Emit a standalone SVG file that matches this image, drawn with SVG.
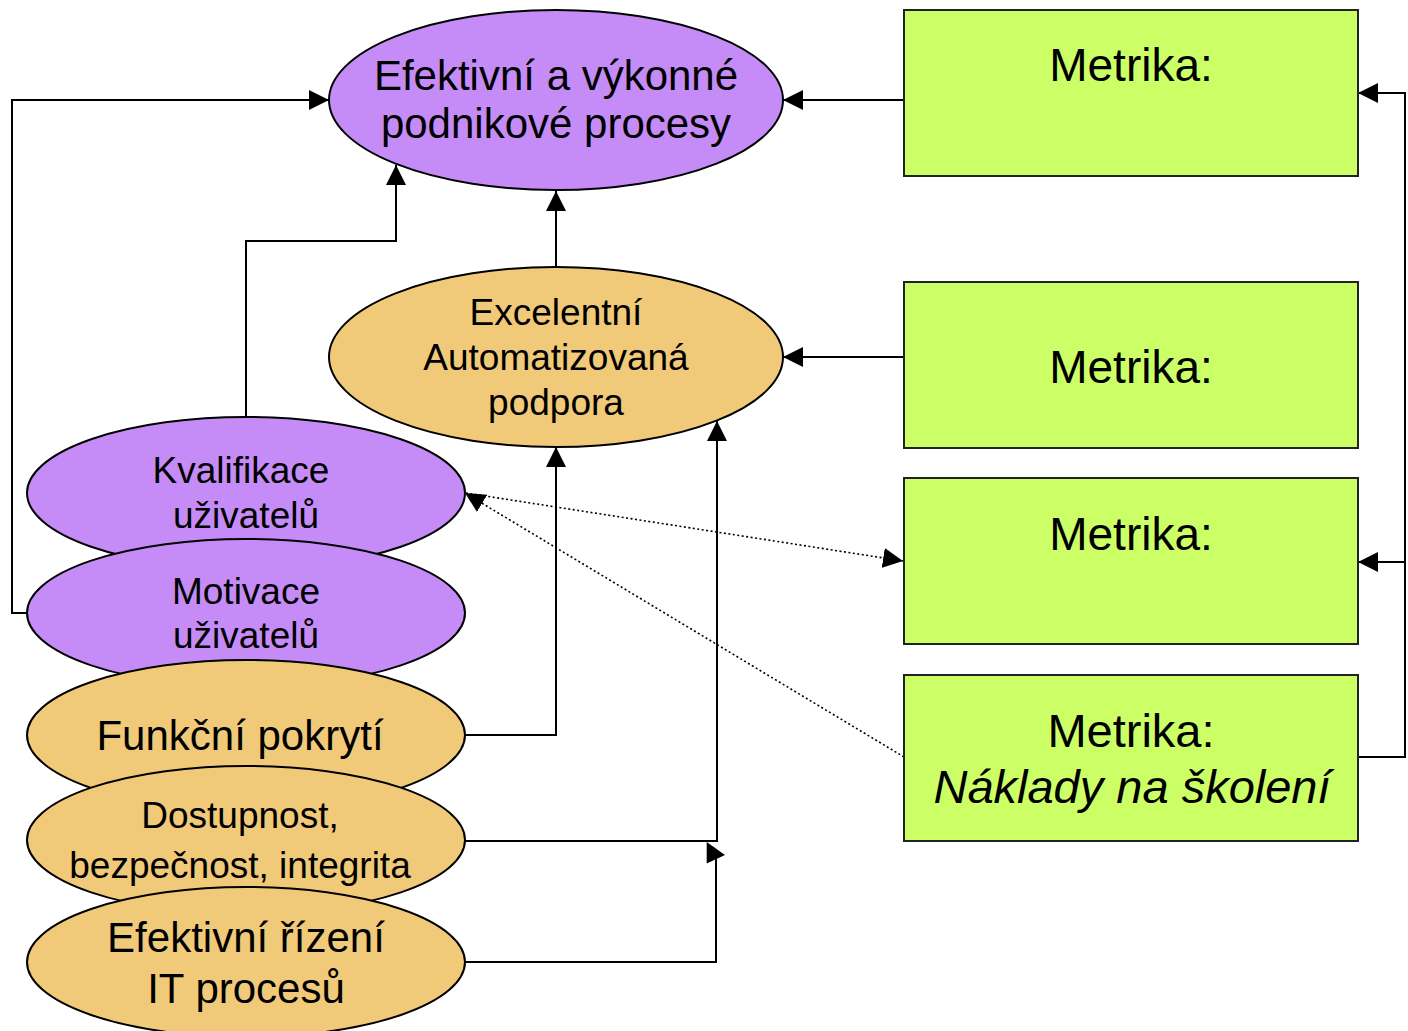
<svg xmlns="http://www.w3.org/2000/svg" width="1408" height="1031" viewBox="0 0 1408 1031">
<style>
  .purple { fill: #C58CF7; stroke: #000; stroke-width: 2; }
  .orange { fill: #F0CA78; stroke: #000; stroke-width: 2; }
  .metric { fill: #CCFF66; stroke: #222; stroke-width: 2; }
  .conn { fill: none; stroke: #000; stroke-width: 2; }
  .dot { fill: none; stroke: #000; stroke-width: 1.6; stroke-dasharray: 2 2.5; }
  text { font-family: "Liberation Sans", Arial, sans-serif; fill: #000; text-anchor: middle; }
</style>
<defs>
  <marker id="arr" markerUnits="userSpaceOnUse" markerWidth="20" markerHeight="20" refX="20" refY="10" orient="auto" viewBox="0 0 20 20">
    <path d="M0,0 L20,10 L0,20 z" fill="#000"/>
  </marker>
</defs>
<rect width="1408" height="1031" fill="#fff"/>

<g id="connectors">
  <path class="conn" d="M27,613 H12 V100 H329" marker-end="url(#arr)"/>
  <path class="conn" d="M246,417 V241 H396 V165" marker-end="url(#arr)"/>
  <path class="conn" d="M556,267 V191" marker-end="url(#arr)"/>
  <path class="conn" d="M904,100 H783" marker-end="url(#arr)"/>
  <path class="conn" d="M904,357 H783" marker-end="url(#arr)"/>
  <path class="conn" d="M465,735 H556 V447" marker-end="url(#arr)"/>
  <path class="conn" d="M465,841 H717 V421" marker-end="url(#arr)"/>
  <path class="conn" d="M465,962 H716 V858"/>
  <polygon points="706.7,842 725,855 706.7,863.5" fill="#000"/>
  <path class="conn" d="M1358,757 H1405 V93 H1358" marker-end="url(#arr)"/>
  <path class="conn" d="M1405,562 H1358" marker-end="url(#arr)"/>
  <path class="dot" d="M904,757 L465,493" marker-end="url(#arr)"/>
  <path class="dot" d="M466,493 L903,561" marker-end="url(#arr)"/>
</g>

<g id="node-efektivni-procesy">
  <ellipse class="purple" cx="556" cy="100" rx="227" ry="90"/>
  <text x="556" y="90" font-size="42">Efektivní a výkonné</text>
  <text x="556" y="138" font-size="42">podnikové procesy</text>
</g>

<g id="node-excelentni">
  <ellipse class="orange" cx="556" cy="357" rx="227" ry="90"/>
  <text x="556" y="325" font-size="37">Excelentní</text>
  <text x="556" y="370" font-size="37">Automatizovaná</text>
  <text x="556" y="415" font-size="37">podpora</text>
</g>

<g id="node-kvalifikace">
  <ellipse class="purple" cx="246" cy="493" rx="219" ry="76"/>
  <text x="241" y="483" font-size="37">Kvalifikace</text>
  <text x="246" y="528" font-size="37">uživatelů</text>
</g>

<g id="node-motivace">
  <ellipse class="purple" cx="246" cy="613" rx="219" ry="74"/>
  <text x="246" y="604" font-size="37">Motivace</text>
  <text x="246" y="648" font-size="37">uživatelů</text>
</g>

<g id="node-funkcni">
  <ellipse class="orange" cx="246" cy="735" rx="219" ry="75"/>
  <text x="240" y="750" font-size="42">Funkční pokrytí</text>
</g>

<g id="node-dostupnost">
  <ellipse class="orange" cx="246" cy="840" rx="219" ry="74"/>
  <text x="240" y="828" font-size="37">Dostupnost,</text>
  <text x="240" y="878" font-size="37">bezpečnost, integrita</text>
</g>

<g id="node-rizeni">
  <ellipse class="orange" cx="246" cy="962" rx="219" ry="75"/>
  <text x="246" y="952" font-size="42">Efektivní řízení</text>
  <text x="246" y="1003" font-size="42">IT procesů</text>
</g>

<g id="node-metrika-1">
  <rect class="metric" x="904" y="10" width="454" height="166"/>
  <text x="1131" y="81" font-size="46">Metrika:</text>
</g>

<g id="node-metrika-2">
  <rect class="metric" x="904" y="282" width="454" height="166"/>
  <text x="1131" y="383" font-size="46">Metrika:</text>
</g>

<g id="node-metrika-3">
  <rect class="metric" x="904" y="478" width="454" height="166"/>
  <text x="1131" y="550" font-size="46">Metrika:</text>
</g>

<g id="node-metrika-4">
  <rect class="metric" x="904" y="675" width="454" height="166"/>
  <text x="1131" y="747" font-size="47">Metrika:</text>
  <text x="1132" y="803" font-size="47" font-style="italic">Náklady na školení</text>
</g>
</svg>
